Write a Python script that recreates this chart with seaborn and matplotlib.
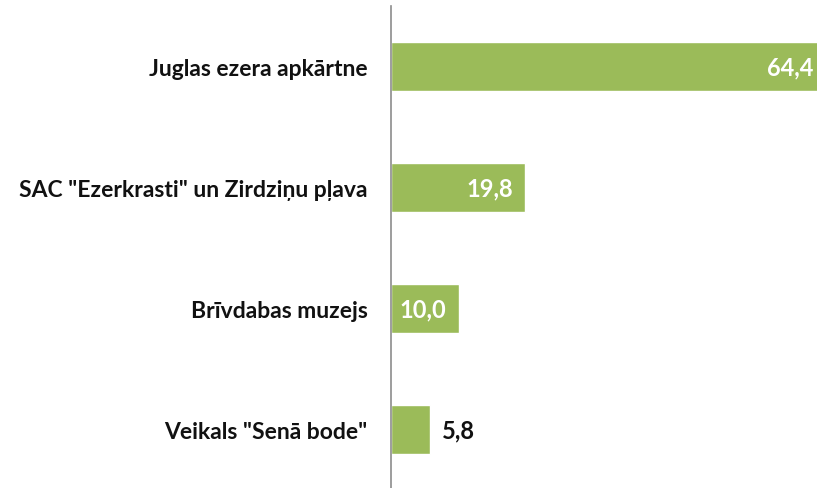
import matplotlib
matplotlib.use("Agg")
import matplotlib.pyplot as plt
import seaborn as sns
import pandas as pd

categories = ['Juglas ezera apkārtne', 'SAC "Ezerkrasti" un Zirdziņu pļava',
              'Brīvdabas muzejs', 'Veikals "Senā bode"']
values = [64.4, 19.8, 10.0, 5.8]
value_labels = ['64,4', '19,8', '10,0', '5,8']

df = pd.DataFrame({'cat': categories, 'val': values})

sns.set_theme(style='white')
plt.rcParams['font.family'] = ['Lato', 'DejaVu Sans']

W, H = 817, 489
fig = plt.figure(figsize=(W / 100, H / 100), dpi=100)
ppu = 6.75
ax_left = 391
ax_right = ax_left + 64.4 * ppu
ax = fig.add_axes([ax_left / W, -2 / H, (ax_right - ax_left) / W, 484 / H])

sns.barplot(data=df, y='cat', x='val', orient='h', color='#9BBB59',
            saturation=1, width=0.40, ax=ax)
ax.set_xlim(0, 64.4)
ax.set_ylim(3.5, -0.5)
ax.set_xlabel('')
ax.set_ylabel('')
ax.set_xticks([])
for s in ['top', 'right', 'bottom']:
    ax.spines[s].set_visible(False)
ax.spines['left'].set_color('#8c8c8c')
ax.spines['left'].set_linewidth(1.2)
ax.tick_params(axis='y', length=0, pad=17)
for t in ax.get_yticklabels():
    t.set_fontsize(16.5)
    t.set_fontweight('bold')
    t.set_color('#111111')

for i, (v, lab) in enumerate(zip(values, value_labels)):
    if v > 8:
        ax.annotate(lab, (v, i), xytext=(-12, 0), textcoords='offset pixels',
                    ha='right', va='center', color='white', fontsize=17,
                    fontweight='bold')
    else:
        ax.annotate(lab, (v, i), xytext=(12, 0), textcoords='offset pixels',
                    ha='left', va='center', color='#111111', fontsize=17,
                    fontweight='bold')

fig.savefig('out.png', dpi=100)
